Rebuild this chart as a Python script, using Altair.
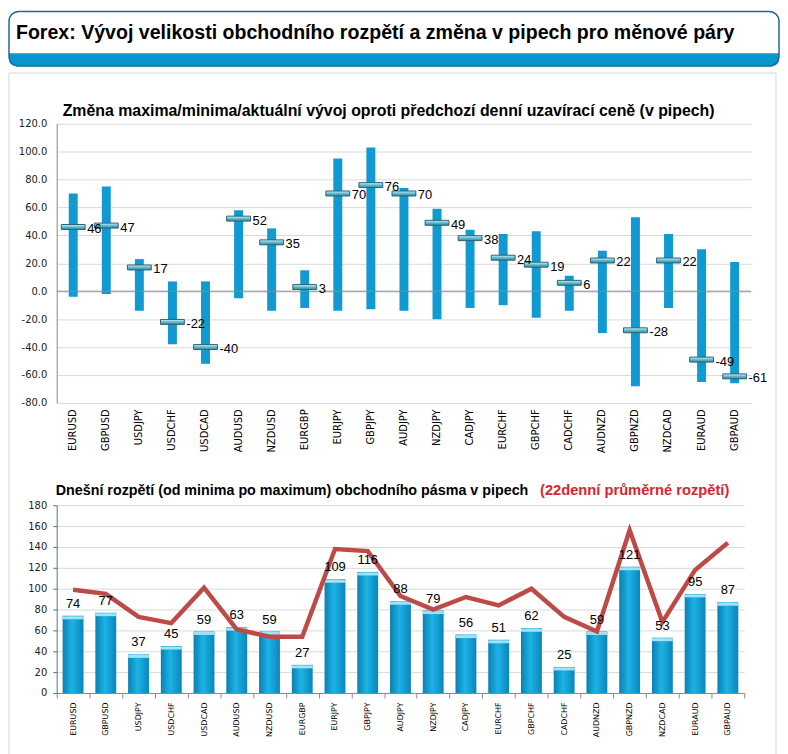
import altair as alt
import pandas as pd

pairs = ["EURUSD", "GBPUSD", "USDJPY", "USDCHF", "USDCAD", "AUDUSD", "NZDUSD", "EURGBP",
         "EURJPY", "GBPJPY", "AUDJPY", "NZDJPY", "CADJPY", "EURCHF", "GBPCHF", "CADCHF",
         "AUDNZD", "GBPNZD", "NZDCAD", "EURAUD", "GBPAUD"]
current = [46, 47, 17, -22, -40, 52, 35, 3, 70, 76, 70, 49, 38, 24, 19, 6, 22, -28, 22, -49, -61]
day_high = [70, 75, 23, 7, 7, 58, 45, 15, 95, 103, 74, 59, 44, 41, 43, 11, 29, 53, 41, 30, 21]
day_low = [-4, -2, -14, -38, -52, -5, -14, -12, -14, -13, -14, -20, -12, -10, -19, -14, -30, -68, -12, -65, -66]
range_today = [74, 77, 37, 45, 59, 63, 59, 27, 109, 116, 88, 79, 56, 51, 62, 25, 59, 121, 53, 95, 87]
avg_22d = [99, 95, 73, 67, 101, 61, 54, 54, 138, 136, 93, 80, 92, 84, 100, 73, 59, 156, 68, 118, 144]
top_ticks = [-80, -60, -40, -20, 0, 20, 40, 60, 80, 100, 120]
bottom_ticks = [0, 20, 40, 60, 80, 100, 120, 140, 160, 180]

header_title = "Forex: Vývoj velikosti obchodního rozpětí a změna v pipech pro měnové páry"
top_title = "Změna maxima/minima/aktuální vývoj oproti předchozí denní uzavírací ceně (v pipech)"
bottom_title_black = "Dnešní rozpětí (od minima po maximum) obchodního pásma v pipech"
bottom_title_red = "(22denní průměrné rozpětí)"

df_top = pd.DataFrame({"pair": pairs, "cur": current, "high": day_high, "low": day_low})
df_top["lbl"] = [str(v) for v in current]
df_bot = pd.DataFrame({"pair": pairs, "rng": range_today, "avg": avg_22d})
df_bot["lbl"] = [str(v) for v in range_today]
one = pd.DataFrame({"k": [0]})

TOP_W, TOP_H = 699, 281
BOT_W, BOT_H = 692, 189

xs_top = alt.X("pair:N", sort=pairs, scale=alt.Scale(paddingInner=0, paddingOuter=0),
               axis=alt.Axis(title=None, labelAngle=270, ticks=False, domain=False,
                             labelPadding=6, labelFont="DejaVu Sans", labelFontSize=10,
                             labelColor="#000000"))
ys_top = alt.Y("low:Q", scale=alt.Scale(domain=[-80, 120], nice=False),
               axis=alt.Axis(title=None, values=top_ticks, tickCount=len(top_ticks),
                             labelExpr="replace(format(datum.value, '.1f'), '\u2212', '-')",
                             labelFont="DejaVu Sans", labelFontSize=10, labelColor="#222222",
                             ticks=False, labelPadding=10, domainColor="#888888",
                             gridColor="#d9d9d9", grid=True, labelOverlap=False))

# decorations (header box, panel frame, titles)
panel = alt.Chart(one).mark_rect(fillOpacity=0, stroke="#d6d6d6", strokeWidth=1).encode(
    x=alt.value(-48), x2=alt.value(724), y=alt.value(-51), y2=alt.value(640))
hdr_box = alt.Chart(one).mark_rect(fill="#ffffff", cornerRadius=10).encode(
    x=alt.value(-48), x2=alt.value(727), y=alt.value(-113), y2=alt.value(-58))
hdr_band = alt.Chart(one).mark_rect(fill="#0b97cc", cornerRadiusBottomLeft=10,
                                    cornerRadiusBottomRight=10).encode(
    x=alt.value(-48), x2=alt.value(727), y=alt.value(-71), y2=alt.value(-58))
hdr_line = alt.Chart(one).mark_rect(fillOpacity=0, stroke="#1f6a98", strokeWidth=1.5,
                                    cornerRadius=10).encode(
    x=alt.value(-48), x2=alt.value(727), y=alt.value(-113), y2=alt.value(-58))
hdr_text = alt.Chart(one).mark_text(text=header_title, align="left", baseline="middle",
                                    font="Liberation Sans", fontWeight="bold", fontSize=19.7,
                                    color="#000000").encode(x=alt.value(-41), y=alt.value(-91))
top_text = alt.Chart(one).mark_text(text=top_title, align="left", baseline="middle",
                                    font="Liberation Sans", fontWeight="bold", fontSize=16,
                                    color="#000000").encode(x=alt.value(6), y=alt.value(-13))

grid_rng = alt.Chart(df_top).mark_bar(size=9, color="#1199d2").encode(
    x=xs_top, y=ys_top, y2="high:Q")
zero = alt.Chart(one).mark_rule(color="#8a8a8a", strokeWidth=1).encode(y=alt.datum(0))
marker_grad = alt.Gradient(gradient="linear", x1=0, x2=0, y1=0, y2=1,
                           stops=[alt.GradientStop(color="#d2f2f8", offset=0),
                                  alt.GradientStop(color="#5dbcd3", offset=0.5),
                                  alt.GradientStop(color="#2d8aa3", offset=1)])
markers = alt.Chart(df_top).mark_tick(size=24, thickness=5, color=marker_grad,
                                      stroke="#35606c", strokeWidth=1, opacity=1).encode(
    x=alt.X("pair:N", sort=pairs), y=alt.Y("cur:Q"))
mlabels = alt.Chart(df_top).mark_text(align="left", baseline="middle", dx=14, dy=2,
                                      font="Liberation Sans", fontSize=13, color="#000000").encode(
    x=alt.X("pair:N", sort=pairs), y=alt.Y("cur:Q"), text="lbl:N")

top = alt.layer(grid_rng, panel, hdr_box, hdr_band, hdr_line, hdr_text, top_text,
                zero, markers, mlabels).properties(width=TOP_W, height=TOP_H)

# bottom chart
xs_bot = alt.X("pair:N", sort=pairs, scale=alt.Scale(paddingInner=0, paddingOuter=0),
               axis=alt.Axis(title=None, labelAngle=270, tickBand="extent", ticks=True,
                             tickSize=5, tickColor="#8a8a8a", domainColor="#8a8a8a",
                             labelPadding=4, labelFont="DejaVu Sans", labelFontSize=8,
                             labelColor="#000000"))
ys_bot = alt.Y("rng:Q", scale=alt.Scale(domain=[0, 180], nice=False),
               axis=alt.Axis(title=None, values=bottom_ticks, tickCount=len(bottom_ticks),
                             labelFont="DejaVu Sans",
                             labelFontSize=10, labelColor="#222222", ticks=True, tickSize=4,
                             tickColor="#5a7090", domainColor="#5a7090", labelPadding=6,
                             gridColor="#d9d9d9", labelOverlap=False))
bar_grad = alt.Gradient(gradient="linear", x1=0, x2=1, y1=0, y2=0,
                        stops=[alt.GradientStop(color="#0a80b2", offset=0),
                               alt.GradientStop(color="#1db3e6", offset=0.45),
                               alt.GradientStop(color="#0a86ba", offset=1)])
bars = alt.Chart(df_bot).mark_bar(size=21, color=bar_grad).encode(x=xs_bot, y=ys_bot)
caps = alt.Chart(df_bot).mark_tick(size=21, thickness=3, color="#9fe3f7", yOffset=2,
                                   opacity=1).encode(
    x=alt.X("pair:N", sort=pairs), y=alt.Y("rng:Q"))
blabels = alt.Chart(df_bot).mark_text(baseline="middle", dy=-12, font="Liberation Sans",
                                      fontSize=13, color="#000000").encode(
    x=alt.X("pair:N", sort=pairs), y=alt.Y("rng:Q"), text="lbl:N")
line = alt.Chart(df_bot).mark_line(color="#be4a47", strokeWidth=4.5).encode(
    x=alt.X("pair:N", sort=pairs), y=alt.Y("avg:Q"))
bt1 = alt.Chart(one).mark_text(text=bottom_title_black, align="left", baseline="middle",
                               font="Liberation Sans", fontWeight="bold", fontSize=14.4,
                               color="#000000").encode(x=alt.value(-1), y=alt.value(-14))
bt2 = alt.Chart(one).mark_text(text=bottom_title_red, align="right", baseline="middle",
                               font="Liberation Sans", fontWeight="bold", fontSize=14.8,
                               color="#d7262f").encode(x=alt.value(677), y=alt.value(-14))

bottom = alt.layer(bars, caps, line, blabels, bt1, bt2).properties(width=BOT_W, height=BOT_H)

chart = alt.vconcat(top, bottom, spacing=103, bounds="flush").properties(
    padding=0
).configure_view(stroke=None).configure_axis(labelFontWeight="normal")

chart.save("out.html", embed_options={"renderer": "svg", "actions": False})
